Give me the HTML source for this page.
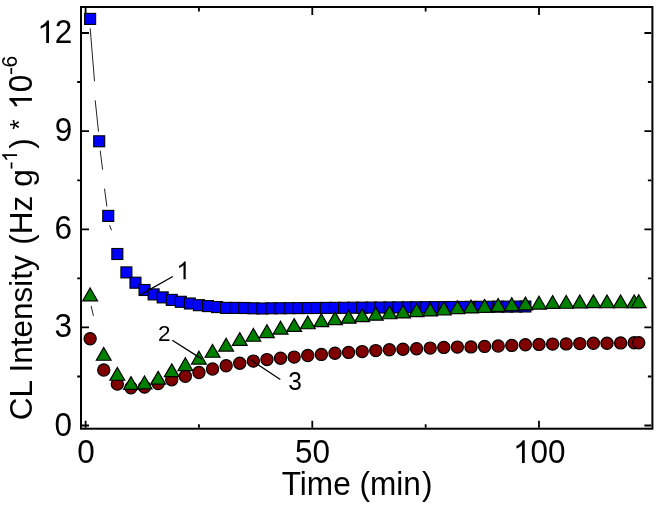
<!DOCTYPE html>
<html><head><meta charset="utf-8"><style>
html,body{margin:0;padding:0;background:#fff;}
body{width:660px;height:505px;overflow:hidden;}
svg{display:block;}
text{font-family:"Liberation Sans",sans-serif;fill:#000;}
svg{will-change:transform;}
</style></head><body>
<svg width="660" height="505" viewBox="0 0 660 505">
<rect x="0" y="0" width="660" height="505" fill="#fff"/>

<rect x="81.0" y="7.0" width="571.4" height="421.7" fill="none" stroke="#000" stroke-width="2"/>
<path d="M82.0 425.5H89.0M651.4 425.5H644.4M82.0 327.4H89.0M651.4 327.4H644.4M82.0 229.3H89.0M651.4 229.3H644.4M82.0 131.2H89.0M651.4 131.2H644.4M82.0 33.0H89.0M651.4 33.0H644.4M80.0 376.5H77.2M651.4 376.5H647.9M80.0 278.3H77.2M651.4 278.3H647.9M80.0 180.3H77.2M651.4 180.3H647.9M80.0 82.0H77.2M651.4 82.0H647.9M85.60 427.7V420.7M85.60 8.0V15.0M312.30 427.7V420.7M312.30 8.0V15.0M539.00 427.7V420.7M539.00 8.0V15.0M198.95 427.7V424.2M198.95 8.0V11.5M425.65 427.7V424.2M425.65 8.0V11.5" stroke="#000" stroke-width="1.8" fill="none"/>
<g stroke="#222" stroke-width="1" fill="none">
<line x1="90.2" y1="28.3" x2="94.5" y2="81.3"/>
<line x1="95.2" y1="100.3" x2="98.5" y2="131.6"/>
<line x1="100.2" y1="150.7" x2="102.6" y2="169.7"/>
<line x1="104.5" y1="188.7" x2="106.9" y2="206.5"/>
<line x1="109.5" y1="225.2" x2="111.5" y2="230.2"/>
<line x1="91.1" y1="305.9" x2="93.4" y2="315.8"/>
</g>
<g fill="#0000ff" stroke="#000" stroke-width="1.1">
<rect x="84.63" y="13.40" width="11.0" height="11.0"/>
<rect x="93.70" y="135.80" width="11.0" height="11.0"/>
<rect x="102.77" y="210.40" width="11.0" height="11.0"/>
<rect x="111.84" y="248.50" width="11.0" height="11.0"/>
<rect x="120.91" y="266.90" width="11.0" height="11.0"/>
<rect x="129.97" y="277.20" width="11.0" height="11.0"/>
<rect x="139.04" y="284.50" width="11.0" height="11.0"/>
<rect x="148.11" y="288.90" width="11.0" height="11.0"/>
<rect x="157.18" y="291.90" width="11.0" height="11.0"/>
<rect x="166.25" y="294.40" width="11.0" height="11.0"/>
<rect x="175.31" y="296.30" width="11.0" height="11.0"/>
<rect x="184.38" y="298.00" width="11.0" height="11.0"/>
<rect x="193.45" y="299.70" width="11.0" height="11.0"/>
<rect x="202.52" y="300.60" width="11.0" height="11.0"/>
<rect x="211.59" y="301.60" width="11.0" height="11.0"/>
<rect x="220.65" y="302.40" width="11.0" height="11.0"/>
<rect x="229.72" y="302.40" width="11.0" height="11.0"/>
<rect x="238.79" y="302.50" width="11.0" height="11.0"/>
<rect x="247.86" y="302.80" width="11.0" height="11.0"/>
<rect x="256.93" y="303.00" width="11.0" height="11.0"/>
<rect x="265.99" y="302.80" width="11.0" height="11.0"/>
<rect x="275.06" y="302.74" width="11.0" height="11.0"/>
<rect x="284.13" y="302.67" width="11.0" height="11.0"/>
<rect x="293.20" y="302.61" width="11.0" height="11.0"/>
<rect x="302.27" y="302.54" width="11.0" height="11.0"/>
<rect x="311.33" y="302.48" width="11.0" height="11.0"/>
<rect x="320.40" y="302.41" width="11.0" height="11.0"/>
<rect x="329.47" y="302.35" width="11.0" height="11.0"/>
<rect x="338.54" y="302.29" width="11.0" height="11.0"/>
<rect x="347.61" y="302.22" width="11.0" height="11.0"/>
<rect x="356.67" y="302.16" width="11.0" height="11.0"/>
<rect x="365.74" y="302.09" width="11.0" height="11.0"/>
<rect x="374.81" y="302.03" width="11.0" height="11.0"/>
<rect x="383.88" y="301.96" width="11.0" height="11.0"/>
<rect x="392.95" y="301.90" width="11.0" height="11.0"/>
<rect x="402.01" y="301.84" width="11.0" height="11.0"/>
<rect x="411.08" y="301.77" width="11.0" height="11.0"/>
<rect x="420.15" y="301.71" width="11.0" height="11.0"/>
<rect x="429.22" y="301.64" width="11.0" height="11.0"/>
<rect x="438.29" y="301.58" width="11.0" height="11.0"/>
<rect x="447.35" y="301.51" width="11.0" height="11.0"/>
<rect x="456.42" y="301.45" width="11.0" height="11.0"/>
<rect x="465.49" y="301.39" width="11.0" height="11.0"/>
<rect x="474.56" y="301.32" width="11.0" height="11.0"/>
<rect x="483.63" y="301.26" width="11.0" height="11.0"/>
<rect x="492.69" y="301.19" width="11.0" height="11.0"/>
<rect x="501.76" y="301.13" width="11.0" height="11.0"/>
<rect x="510.83" y="301.06" width="11.0" height="11.0"/>
<rect x="519.90" y="301.00" width="11.0" height="11.0"/>
</g>
<g fill="#800000" stroke="#000" stroke-width="1.2">
<circle cx="90.13" cy="338.70" r="6.1"/>
<circle cx="103.74" cy="370.00" r="6.1"/>
<circle cx="117.34" cy="384.10" r="6.1"/>
<circle cx="130.94" cy="387.80" r="6.1"/>
<circle cx="144.54" cy="387.10" r="6.1"/>
<circle cx="158.14" cy="383.60" r="6.1"/>
<circle cx="171.75" cy="379.70" r="6.1"/>
<circle cx="185.35" cy="376.30" r="6.1"/>
<circle cx="198.95" cy="372.50" r="6.1"/>
<circle cx="212.55" cy="369.00" r="6.1"/>
<circle cx="226.15" cy="365.80" r="6.1"/>
<circle cx="239.76" cy="363.20" r="6.1"/>
<circle cx="253.36" cy="361.10" r="6.1"/>
<circle cx="266.96" cy="359.60" r="6.1"/>
<circle cx="280.56" cy="358.20" r="6.1"/>
<circle cx="294.16" cy="357.10" r="6.1"/>
<circle cx="307.77" cy="355.50" r="6.1"/>
<circle cx="321.37" cy="354.40" r="6.1"/>
<circle cx="334.97" cy="353.20" r="6.1"/>
<circle cx="348.57" cy="352.40" r="6.1"/>
<circle cx="362.17" cy="351.60" r="6.1"/>
<circle cx="375.78" cy="350.60" r="6.1"/>
<circle cx="389.38" cy="349.80" r="6.1"/>
<circle cx="402.98" cy="349.20" r="6.1"/>
<circle cx="416.58" cy="348.70" r="6.1"/>
<circle cx="430.18" cy="348.10" r="6.1"/>
<circle cx="443.79" cy="347.40" r="6.1"/>
<circle cx="457.39" cy="347.10" r="6.1"/>
<circle cx="470.99" cy="346.90" r="6.1"/>
<circle cx="484.59" cy="346.40" r="6.1"/>
<circle cx="498.19" cy="346.00" r="6.1"/>
<circle cx="511.80" cy="345.40" r="6.1"/>
<circle cx="525.40" cy="344.80" r="6.1"/>
<circle cx="539.00" cy="344.40" r="6.1"/>
<circle cx="552.60" cy="344.10" r="6.1"/>
<circle cx="566.20" cy="343.90" r="6.1"/>
<circle cx="579.81" cy="343.60" r="6.1"/>
<circle cx="593.41" cy="343.30" r="6.1"/>
<circle cx="607.01" cy="343.30" r="6.1"/>
<circle cx="620.61" cy="342.90" r="6.1"/>
<circle cx="634.21" cy="342.80" r="6.1"/>
<circle cx="638.75" cy="342.70" r="6.1"/>
</g>
<g fill="#008000" stroke="#000" stroke-width="1.2" stroke-linejoin="miter">
<path d="M90.13 287.99L97.53 300.81L82.73 300.81Z"/>
<path d="M103.74 347.44L111.14 360.26L96.34 360.26Z"/>
<path d="M117.34 367.44L124.74 380.26L109.94 380.26Z"/>
<path d="M130.94 376.64L138.34 389.46L123.54 389.46Z"/>
<path d="M144.54 376.04L151.94 388.86L137.14 388.86Z"/>
<path d="M158.14 371.34L165.54 384.16L150.74 384.16Z"/>
<path d="M171.75 363.84L179.15 376.66L164.35 376.66Z"/>
<path d="M185.35 357.74L192.75 370.56L177.95 370.56Z"/>
<path d="M198.95 351.24L206.35 364.06L191.55 364.06Z"/>
<path d="M212.55 344.44L219.95 357.26L205.15 357.26Z"/>
<path d="M226.15 338.24L233.55 351.06L218.75 351.06Z"/>
<path d="M239.76 332.64L247.16 345.46L232.36 345.46Z"/>
<path d="M253.36 328.44L260.76 341.26L245.96 341.26Z"/>
<path d="M266.96 324.74L274.36 337.56L259.56 337.56Z"/>
<path d="M280.56 321.24L287.96 334.06L273.16 334.06Z"/>
<path d="M294.16 318.64L301.56 331.46L286.76 331.46Z"/>
<path d="M307.77 315.94L315.17 328.76L300.37 328.76Z"/>
<path d="M321.37 313.74L328.77 326.56L313.97 326.56Z"/>
<path d="M334.97 311.84L342.37 324.66L327.57 324.66Z"/>
<path d="M348.57 310.34L355.97 323.16L341.17 323.16Z"/>
<path d="M362.17 308.84L369.57 321.66L354.77 321.66Z"/>
<path d="M375.78 307.34L383.18 320.16L368.38 320.16Z"/>
<path d="M389.38 305.94L396.78 318.76L381.98 318.76Z"/>
<path d="M402.98 305.14L410.38 317.96L395.58 317.96Z"/>
<path d="M416.58 303.74L423.98 316.56L409.18 316.56Z"/>
<path d="M430.18 303.14L437.58 315.96L422.78 315.96Z"/>
<path d="M443.79 302.04L451.19 314.86L436.39 314.86Z"/>
<path d="M457.39 300.84L464.79 313.66L449.99 313.66Z"/>
<path d="M470.99 300.14L478.39 312.96L463.59 312.96Z"/>
<path d="M484.59 299.44L491.99 312.26L477.19 312.26Z"/>
<path d="M498.19 298.54L505.59 311.36L490.79 311.36Z"/>
<path d="M511.80 297.74L519.20 310.56L504.40 310.56Z"/>
<path d="M525.40 297.14L532.80 309.96L518.00 309.96Z"/>
<path d="M539.00 296.24L546.40 309.06L531.60 309.06Z"/>
<path d="M552.60 295.64L560.00 308.46L545.20 308.46Z"/>
<path d="M566.20 295.44L573.60 308.26L558.80 308.26Z"/>
<path d="M579.81 295.04L587.21 307.86L572.41 307.86Z"/>
<path d="M593.41 294.84L600.81 307.66L586.01 307.66Z"/>
<path d="M607.01 294.94L614.41 307.76L599.61 307.76Z"/>
<path d="M620.61 294.94L628.01 307.76L613.21 307.76Z"/>
<path d="M634.21 294.94L641.61 307.76L626.81 307.76Z"/>
<path d="M638.75 294.74L646.15 307.56L631.35 307.56Z"/>
</g>
<g stroke="#000" stroke-width="1.3">
<line x1="139.8" y1="295.1" x2="172.8" y2="276.5"/>
<line x1="172.3" y1="340.2" x2="202" y2="359.1"/>
<line x1="250.6" y1="359.8" x2="280.3" y2="379.5"/>
</g>
<path d="M763 0L583 0L583 1147Q518 1085 413 1024Q308 963 223 931L223 1105Q370 1174 480 1275Q590 1376 636 1466L763 1466Z" transform="translate(176.38,279.30) scale(0.012207,-0.012207)"/>
<text x="0" y="0" font-size="22.5" transform="translate(158.07,341.00) scale(1,1.0)">2</text>
<text x="0" y="0" font-size="24.5" transform="translate(288.17,390.20) scale(1,1.08)">3</text>
<text x="0" y="0" font-size="31.5" transform="translate(54.41,435.50) scale(1,1.04)">0</text>
<text x="0" y="0" font-size="31.5" transform="translate(54.57,337.40) scale(1,1.04)">3</text>
<text x="0" y="0" font-size="31.5" transform="translate(54.57,239.30) scale(1,1.04)">6</text>
<text x="0" y="0" font-size="31.5" transform="translate(54.67,141.20) scale(1,1.04)">9</text>
<path d="M763 0L583 0L583 1147Q518 1085 413 1024Q308 963 223 931L223 1105Q370 1174 480 1275Q590 1376 636 1466L763 1466Z" transform="translate(37.25,43.00) scale(0.015381,-0.015381)"/>
<text x="0" y="0" font-size="31.5" transform="translate(54.77,43.00) scale(1,1.04)">2</text>
<text x="0" y="0" font-size="31.5" transform="translate(77.14,462.90) scale(1,1.04)">0</text>
<text x="0" y="0" font-size="31.5" transform="translate(295.08,462.90) scale(1,1.04)">50</text>
<path d="M763 0L583 0L583 1147Q518 1085 413 1024Q308 963 223 931L223 1105Q370 1174 480 1275Q590 1376 636 1466L763 1466Z" transform="translate(513.02,462.90) scale(0.015381,-0.015381)"/>
<text x="0" y="0" font-size="31.5" transform="translate(530.54,462.90) scale(1,1.04)">00</text>
<text x="0" y="0" font-size="31.6" transform="translate(281.69,494.8) scale(1,1.03)">Time (min</text>
<text x="0" y="0" font-size="31.6" transform="translate(421.93,494.8) scale(1,1.03)">)</text>
<g transform="translate(31.9,0) rotate(-90)"><text x="-420.3" y="0" font-size="31.5">CL Intensity</text>
<text x="-244.87" y="0" font-size="31.5">(Hz</text>
<text x="-186.83" y="0" font-size="31.5">g</text>
<rect x="-168.60" y="-21.23" width="6.2" height="1.7"/>
<path d="M763 0L583 0L583 1147Q518 1085 413 1024Q308 963 223 931L223 1105Q370 1174 480 1275Q590 1376 636 1466L763 1466Z" transform="translate(-162.01,-14.80) scale(0.010254,-0.010254)"/>
<text x="-148.76" y="0" font-size="31.5">)</text>
<text x="0" y="0" font-size="26.5" transform="translate(-129.76,-3.77)">*</text>
<path d="M763 0L583 0L583 1147Q518 1085 413 1024Q308 963 223 931L223 1105Q370 1174 480 1275Q590 1376 636 1466L763 1466Z" transform="translate(-109.70,0.00) scale(0.015381,-0.015381)"/>
<text x="0" y="0" font-size="31.5" transform="translate(-92.18,0.00) scale(1,1.04)">0</text>
<rect x="-74.10" y="-21.45" width="6.2" height="1.7"/>
<text x="0" y="0" font-size="21.0" transform="translate(-67.51,-14.80) scale(1,1.04)">6</text></g>
</svg>
</body></html>
